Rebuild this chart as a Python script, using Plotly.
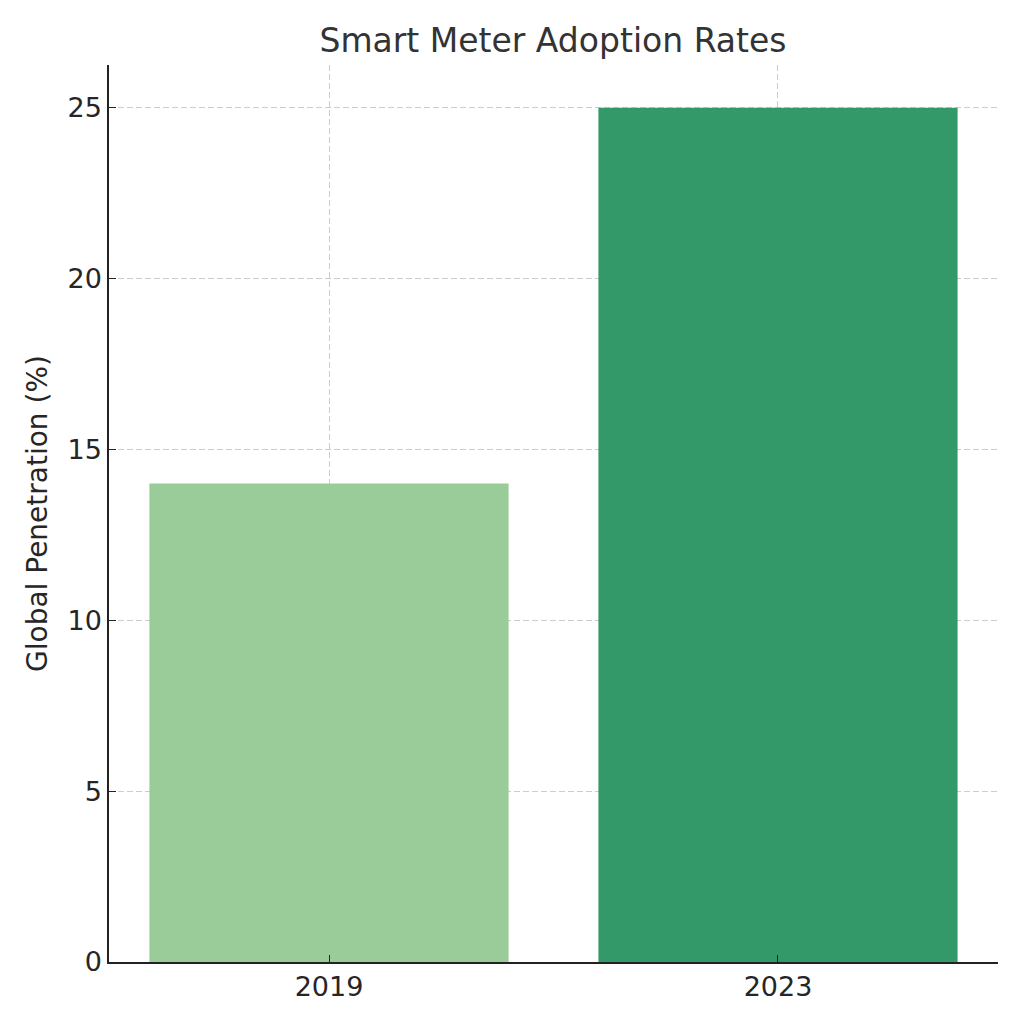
import plotly.graph_objects as go

years = ["2019", "2023"]
penetration = [14, 25]
bar_colors = ["#9acc99", "#349968"]

fig = go.Figure()
fig.add_trace(go.Bar(
    x=years, y=penetration,
    marker=dict(color=bar_colors, line=dict(width=0)),
    width=0.8,
))

font_family = "DejaVu Sans, Verdana, sans-serif"

# page has an 8px body margin, so the margins are shifted to line up
fig.update_xaxes(
    type="category", range=[-0.49, 1.49],
    showgrid=True, gridcolor="#cccccc", gridwidth=1, griddash="6px,3px",
    showline=True, linecolor="#222222", linewidth=1.5,
    ticks="inside", ticklen=7, tickwidth=1.2, tickcolor="#222222",
    tickfont=dict(size=27, color="#262626"),
    layer="above traces",
)
fig.update_yaxes(
    range=[0, 26.25], tickvals=[0, 5, 10, 15, 20, 25],
    showgrid=True, gridcolor="#cccccc", gridwidth=1, griddash="6px,3px",
    zeroline=False,
    showline=True, linecolor="#222222", linewidth=1.5,
    ticks="inside", ticklen=7, tickwidth=1.2, tickcolor="#222222",
    tickfont=dict(size=27, color="#262626"),
    title=dict(text="Global Penetration (%)", font=dict(size=28, color="#262626"), standoff=12),
    layer="above traces",
)

fig.update_layout(
    width=1024, height=1024,
    template="simple_white",
    plot_bgcolor="white", paper_bgcolor="white",
    font=dict(family=font_family),
    showlegend=False,
    margin=dict(l=101, r=34, t=57, b=70),
    title=dict(text="Smart Meter Adoption Rates", x=545/1024, xanchor="center",
               y=1-32/1024, yanchor="middle",
               font=dict(size=33, color="#333333")),
)

fig.write_html("out.html")
